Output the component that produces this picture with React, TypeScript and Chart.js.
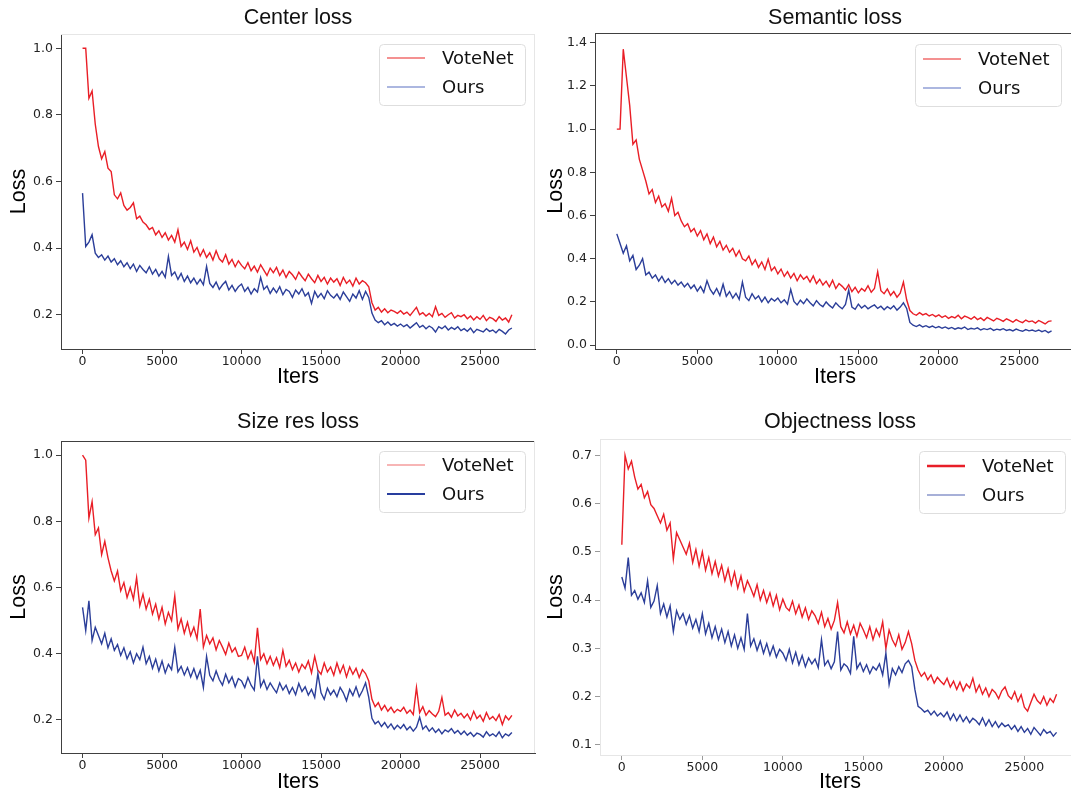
import React, { useEffect, useRef } from 'react';
import { Chart, registerables } from 'chart.js';

Chart.register(...registerables);

// ---------------- data ----------------
const ITERS = [
  0, 200, 400, 600, 800, 1000, 1200, 1400, 1600, 1800,
  2000, 2200, 2400, 2600, 2800, 3000, 3200, 3400, 3600, 3800,
  4000, 4200, 4400, 4600, 4800, 5000, 5200, 5400, 5600, 5800,
  6000, 6200, 6400, 6600, 6800, 7000, 7200, 7400, 7600, 7800,
  8000, 8200, 8400, 8600, 8800, 9000, 9200, 9400, 9600, 9800,
  10000, 10200, 10400, 10600, 10800, 11000, 11200, 11400, 11600, 11800,
  12000, 12200, 12400, 12600, 12800, 13000, 13200, 13400, 13600, 13800,
  14000, 14200, 14400, 14600, 14800, 15000, 15200, 15400, 15600, 15800,
  16000, 16200, 16400, 16600, 16800, 17000, 17200, 17400, 17600, 17800,
  18000, 18200, 18400, 18600, 18800, 19000, 19200, 19400, 19600, 19800,
  20000, 20200, 20400, 20600, 20800, 21000, 21200, 21400, 21600, 21800,
  22000, 22200, 22400, 22600, 22800, 23000, 23200, 23400, 23600, 23800,
  24000, 24200, 24400, 24600, 24800, 25000, 25200, 25400, 25600, 25800,
  26000, 26200, 26400, 26600, 26800, 27000,
];

const X_TICKS = [0, 5000, 10000, 15000, 20000, 25000];
const SERIES_LABELS = ['VoteNet', 'Ours'];
const TITLES = ['Center loss', 'Semantic loss', 'Size res loss', 'Objectness loss'];
const X_LABEL = 'Iters';
const Y_LABEL = 'Loss';

const CENTER_VOTENET = [
  1.000, 1.000, 0.850, 0.872, 0.772, 0.705, 0.668, 0.690, 0.640, 0.630,
  0.560, 0.548, 0.566, 0.528, 0.514, 0.522, 0.536, 0.488, 0.496, 0.478,
  0.470, 0.456, 0.462, 0.440, 0.452, 0.432, 0.446, 0.424, 0.438, 0.418,
  0.455, 0.405, 0.418, 0.396, 0.422, 0.388, 0.402, 0.376, 0.395, 0.372,
  0.386, 0.364, 0.392, 0.368, 0.358, 0.380, 0.352, 0.366, 0.344, 0.362,
  0.348, 0.338, 0.356, 0.332, 0.346, 0.328, 0.350, 0.334, 0.318, 0.340,
  0.326, 0.342, 0.318, 0.334, 0.312, 0.330, 0.320, 0.306, 0.328, 0.314,
  0.302, 0.322, 0.308, 0.296, 0.318, 0.300, 0.312, 0.292, 0.310, 0.298,
  0.308, 0.288, 0.312, 0.294, 0.304, 0.286, 0.310, 0.292, 0.302, 0.296,
  0.284, 0.236, 0.214, 0.222, 0.208, 0.218, 0.206, 0.214, 0.210, 0.204,
  0.212, 0.202, 0.208, 0.198, 0.210, 0.222, 0.200, 0.206, 0.196, 0.204,
  0.194, 0.224, 0.198, 0.204, 0.192, 0.200, 0.206, 0.190, 0.198, 0.194,
  0.200, 0.188, 0.196, 0.184, 0.194, 0.186, 0.198, 0.182, 0.192, 0.188,
  0.180, 0.194, 0.184, 0.190, 0.178, 0.200,
];
const CENTER_OURS = [
  0.565, 0.405, 0.418, 0.440, 0.385, 0.372, 0.380, 0.364, 0.376, 0.358,
  0.368, 0.350, 0.362, 0.344, 0.356, 0.338, 0.352, 0.330, 0.348, 0.336,
  0.326, 0.344, 0.322, 0.336, 0.316, 0.330, 0.312, 0.375, 0.318, 0.328,
  0.306, 0.324, 0.300, 0.316, 0.296, 0.310, 0.292, 0.306, 0.290, 0.345,
  0.294, 0.282, 0.298, 0.276, 0.290, 0.300, 0.274, 0.288, 0.270, 0.284,
  0.292, 0.270, 0.282, 0.262, 0.278, 0.268, 0.312, 0.276, 0.286, 0.264,
  0.280, 0.266, 0.284, 0.260, 0.276, 0.270, 0.252, 0.274, 0.262, 0.278,
  0.256, 0.266, 0.234, 0.270, 0.252, 0.264, 0.248, 0.272, 0.258, 0.250,
  0.262, 0.246, 0.268, 0.254, 0.240, 0.262, 0.250, 0.272, 0.246, 0.270,
  0.252, 0.205, 0.184, 0.176, 0.182, 0.170, 0.178, 0.168, 0.174, 0.166,
  0.172, 0.164, 0.170, 0.160, 0.168, 0.176, 0.162, 0.168, 0.158, 0.166,
  0.160, 0.148, 0.164, 0.158, 0.166, 0.154, 0.162, 0.156, 0.164, 0.152,
  0.158, 0.150, 0.160, 0.146, 0.156, 0.152, 0.148, 0.158, 0.150, 0.154,
  0.146, 0.156, 0.150, 0.142, 0.154, 0.160,
];

const SEMANTIC_VOTENET = [
  1.000, 1.000, 1.370, 1.240, 1.110, 0.930, 0.950, 0.860, 0.810, 0.760,
  0.700, 0.720, 0.660, 0.690, 0.640, 0.655, 0.620, 0.680, 0.600, 0.615,
  0.575, 0.548, 0.562, 0.525, 0.540, 0.505, 0.530, 0.488, 0.515, 0.470,
  0.500, 0.455, 0.480, 0.440, 0.462, 0.430, 0.448, 0.412, 0.438, 0.400,
  0.390, 0.412, 0.372, 0.395, 0.360, 0.385, 0.350, 0.398, 0.345, 0.362,
  0.330, 0.352, 0.318, 0.340, 0.310, 0.332, 0.298, 0.325, 0.305, 0.318,
  0.292, 0.320, 0.285, 0.305, 0.278, 0.296, 0.270, 0.300, 0.262, 0.285,
  0.272, 0.255, 0.280, 0.248, 0.268, 0.242, 0.262, 0.250, 0.275, 0.245,
  0.262, 0.340, 0.252, 0.238, 0.260, 0.230, 0.248, 0.222, 0.240, 0.292,
  0.210, 0.160, 0.145, 0.138, 0.150, 0.140, 0.146, 0.135, 0.142, 0.132,
  0.140, 0.128, 0.136, 0.124, 0.132, 0.126, 0.138, 0.122, 0.134, 0.128,
  0.120, 0.132, 0.118, 0.126, 0.114, 0.128, 0.120, 0.112, 0.124, 0.118,
  0.110, 0.122, 0.114, 0.106, 0.118, 0.110, 0.104, 0.116, 0.108, 0.112,
  0.102, 0.114, 0.106, 0.098, 0.110, 0.112,
];
const SEMANTIC_OURS = [
  0.515, 0.470, 0.425, 0.460, 0.390, 0.415, 0.350, 0.370, 0.400, 0.325,
  0.338, 0.310, 0.325, 0.296, 0.318, 0.290, 0.308, 0.284, 0.300, 0.278,
  0.292, 0.270, 0.286, 0.262, 0.278, 0.250, 0.272, 0.244, 0.298, 0.258,
  0.236, 0.262, 0.230, 0.282, 0.226, 0.248, 0.218, 0.240, 0.212, 0.292,
  0.222, 0.206, 0.238, 0.214, 0.228, 0.200, 0.222, 0.196, 0.216, 0.204,
  0.218, 0.196, 0.210, 0.190, 0.258, 0.202, 0.186, 0.208, 0.192, 0.214,
  0.196, 0.182, 0.206, 0.188, 0.178, 0.200, 0.184, 0.172, 0.196, 0.180,
  0.168, 0.188, 0.255, 0.176, 0.166, 0.190, 0.172, 0.184, 0.168, 0.178,
  0.186, 0.170, 0.180, 0.164, 0.178, 0.168, 0.182, 0.162, 0.176, 0.196,
  0.170, 0.105, 0.092, 0.086, 0.094, 0.084, 0.090, 0.082, 0.088, 0.080,
  0.086, 0.078, 0.084, 0.076, 0.082, 0.074, 0.080, 0.076, 0.084, 0.072,
  0.078, 0.074, 0.080, 0.070, 0.076, 0.072, 0.078, 0.068, 0.074, 0.070,
  0.076, 0.068, 0.072, 0.066, 0.074, 0.068, 0.064, 0.072, 0.066, 0.070,
  0.064, 0.070, 0.062, 0.068, 0.058, 0.066,
];

const SIZE_VOTENET = [
  1.000, 0.985, 0.810, 0.860, 0.760, 0.780, 0.700, 0.740, 0.690, 0.650,
  0.620, 0.650, 0.590, 0.615, 0.570, 0.600, 0.565, 0.630, 0.545, 0.580,
  0.535, 0.565, 0.520, 0.550, 0.505, 0.540, 0.490, 0.525, 0.500, 0.575,
  0.475, 0.505, 0.462, 0.495, 0.455, 0.480, 0.445, 0.535, 0.420, 0.455,
  0.430, 0.448, 0.412, 0.440, 0.420, 0.398, 0.432, 0.405, 0.418, 0.392,
  0.395, 0.420, 0.385, 0.408, 0.375, 0.478, 0.382, 0.400, 0.370, 0.392,
  0.365, 0.388, 0.358, 0.410, 0.362, 0.380, 0.352, 0.372, 0.345, 0.368,
  0.355, 0.378, 0.342, 0.392, 0.350, 0.338, 0.372, 0.345, 0.360, 0.335,
  0.372, 0.342, 0.365, 0.330, 0.360, 0.338, 0.356, 0.328, 0.352, 0.340,
  0.318, 0.262, 0.240, 0.252, 0.230, 0.244, 0.226, 0.238, 0.222, 0.232,
  0.226, 0.238, 0.220, 0.230, 0.216, 0.298, 0.222, 0.240, 0.214, 0.228,
  0.218, 0.210, 0.226, 0.268, 0.214, 0.222, 0.208, 0.230, 0.212, 0.220,
  0.206, 0.218, 0.200, 0.226, 0.204, 0.214, 0.196, 0.222, 0.202, 0.210,
  0.198, 0.216, 0.186, 0.212, 0.200, 0.214,
];
const SIZE_OURS = [
  0.540, 0.470, 0.560, 0.440, 0.480, 0.455, 0.430, 0.462, 0.418, 0.445,
  0.410, 0.428, 0.395, 0.418, 0.385, 0.406, 0.372, 0.400, 0.382, 0.420,
  0.370, 0.392, 0.356, 0.384, 0.348, 0.378, 0.342, 0.368, 0.352, 0.420,
  0.345, 0.362, 0.336, 0.358, 0.330, 0.355, 0.325, 0.350, 0.298, 0.392,
  0.335, 0.318, 0.348, 0.322, 0.305, 0.338, 0.312, 0.330, 0.300, 0.325,
  0.318, 0.298, 0.328, 0.305, 0.290, 0.392, 0.300, 0.320, 0.292, 0.312,
  0.296, 0.282, 0.312, 0.290, 0.305, 0.280, 0.298, 0.276, 0.310, 0.286,
  0.300, 0.275, 0.292, 0.268, 0.340, 0.282, 0.262, 0.296, 0.276, 0.290,
  0.270, 0.298, 0.282, 0.258, 0.292, 0.274, 0.300, 0.270, 0.288, 0.312,
  0.268, 0.205, 0.188, 0.196, 0.180, 0.192, 0.176, 0.188, 0.172, 0.184,
  0.174, 0.186, 0.170, 0.180, 0.166, 0.178, 0.208, 0.172, 0.182, 0.166,
  0.176, 0.162, 0.172, 0.158, 0.170, 0.164, 0.174, 0.160, 0.168, 0.156,
  0.166, 0.154, 0.162, 0.150, 0.160, 0.156, 0.148, 0.164, 0.152, 0.158,
  0.150, 0.164, 0.146, 0.158, 0.152, 0.162,
];

const OBJ_VOTENET = [
  0.515, 0.700, 0.672, 0.688, 0.655, 0.630, 0.640, 0.612, 0.625, 0.598,
  0.590, 0.575, 0.560, 0.578, 0.545, 0.560, 0.485, 0.540, 0.525, 0.510,
  0.495, 0.518, 0.478, 0.505, 0.470, 0.500, 0.462, 0.488, 0.455, 0.480,
  0.450, 0.472, 0.440, 0.465, 0.432, 0.458, 0.425, 0.450, 0.418, 0.440,
  0.425, 0.408, 0.432, 0.400, 0.420, 0.395, 0.415, 0.388, 0.410, 0.380,
  0.402, 0.385, 0.378, 0.398, 0.372, 0.390, 0.365, 0.384, 0.360, 0.378,
  0.368, 0.352, 0.375, 0.345, 0.362, 0.340, 0.358, 0.395, 0.345, 0.332,
  0.355, 0.330, 0.348, 0.325, 0.352, 0.338, 0.322, 0.345, 0.318, 0.340,
  0.325, 0.355, 0.300, 0.338, 0.318, 0.305, 0.328, 0.298, 0.312, 0.335,
  0.310, 0.275, 0.255, 0.242, 0.250, 0.235, 0.245, 0.228, 0.240, 0.232,
  0.225, 0.238, 0.220, 0.232, 0.215, 0.230, 0.212, 0.226, 0.218, 0.238,
  0.210, 0.224, 0.205, 0.218, 0.200, 0.215, 0.208, 0.196, 0.212, 0.220,
  0.202, 0.195, 0.210, 0.190, 0.204, 0.178, 0.170, 0.188, 0.205, 0.192,
  0.185, 0.200, 0.182, 0.196, 0.188, 0.205,
];
const OBJ_OURS = [
  0.448, 0.425, 0.488, 0.410, 0.420, 0.402, 0.415, 0.395, 0.440, 0.385,
  0.398, 0.430, 0.372, 0.392, 0.365, 0.388, 0.335, 0.378, 0.360, 0.372,
  0.350, 0.368, 0.342, 0.360, 0.335, 0.372, 0.330, 0.352, 0.322, 0.345,
  0.318, 0.340, 0.312, 0.335, 0.305, 0.328, 0.300, 0.322, 0.298, 0.372,
  0.305, 0.320, 0.296, 0.315, 0.290, 0.310, 0.286, 0.305, 0.282, 0.298,
  0.290, 0.275, 0.298, 0.270, 0.292, 0.266, 0.285, 0.262, 0.280, 0.268,
  0.278, 0.260, 0.318, 0.265, 0.275, 0.258, 0.272, 0.335, 0.255, 0.268,
  0.262, 0.248, 0.325, 0.258, 0.270, 0.252, 0.266, 0.248, 0.262, 0.255,
  0.268, 0.245, 0.290, 0.225, 0.258, 0.245, 0.262, 0.250, 0.268, 0.275,
  0.262, 0.215, 0.180, 0.175, 0.168, 0.172, 0.162, 0.170, 0.160, 0.166,
  0.158, 0.168, 0.152, 0.164, 0.150, 0.162, 0.148, 0.158, 0.146, 0.155,
  0.150, 0.142, 0.156, 0.140, 0.152, 0.138, 0.148, 0.136, 0.145, 0.138,
  0.142, 0.132, 0.140, 0.128, 0.138, 0.126, 0.134, 0.122, 0.136, 0.128,
  0.120, 0.132, 0.124, 0.128, 0.118, 0.126,
];

const Y_TICKS_CENTER = [0.2, 0.4, 0.6, 0.8, 1.0];
const Y_TICKS_SEMANTIC = [0.0, 0.2, 0.4, 0.6, 0.8, 1.0, 1.2, 1.4];
const Y_TICKS_SIZE = [0.2, 0.4, 0.6, 0.8, 1.0];
const Y_TICKS_OBJ = [0.1, 0.2, 0.3, 0.4, 0.5, 0.6, 0.7];

// ---------------- styles / layout ----------------
const RED = 'rgba(232, 18, 26, 0.95)';
const BLUE = 'rgba(32, 52, 148, 0.95)';
const DARK = '#404040';
const FAINT = '#e6e6e6';

type LegendLine = { color: string; width: number };
type Spec = {
  title: string;
  red: number[];
  blue: number[];
  yTicks: number[];
  yMin: number; yMax: number; xMin: number; xMax: number;
  left: number; top: number; width: number; height: number;
  yAxisW: number; xAxisH: number; padRight: number;
  titlePadTop: number; titlePadBottom: number;
  yTitlePad: number; xTitlePad: number;
  axisColor: string; tickColor: string;
  topSpine: string | null; rightSpine: string | null;
  legend: { x: number; y: number; w: number; h: number; dy: number[]; lines: LegendLine[] };
};

const SPECS: Spec[] = [
  {
    title: TITLES[0], red: CENTER_VOTENET, blue: CENTER_OURS, yTicks: Y_TICKS_CENTER,
    yMin: 0.097, yMax: 1.043, xMin: -1355, xMax: 28455,
    left: 0, top: 0, width: 545, height: 397,
    yAxisW: 61, xAxisH: 48, padRight: 10,
    titlePadTop: 5.1, titlePadBottom: 3.1, yTitlePad: 6, xTitlePad: 7,
    axisColor: DARK, tickColor: DARK, topSpine: FAINT, rightSpine: FAINT,
    legend: { x: 379, y: 44, w: 146, h: 61, dy: [14, 43], lines: [
      { color: 'rgba(235, 60, 60, 0.75)', width: 1.3 },
      { color: 'rgba(70, 95, 185, 0.6)', width: 1.3 },
    ] },
  },
  {
    title: TITLES[1], red: SEMANTIC_VOTENET, blue: SEMANTIC_OURS, yTicks: Y_TICKS_SEMANTIC,
    yMin: -0.018, yMax: 1.445, xMin: -1355, xMax: 28455,
    left: 540, top: 0, width: 540, height: 397,
    yAxisW: 55, xAxisH: 48, padRight: 5,
    titlePadTop: 5.1, titlePadBottom: 2.1, yTitlePad: 3, xTitlePad: 7,
    axisColor: DARK, tickColor: DARK, topSpine: DARK, rightSpine: null,
    legend: { x: 375, y: 44, w: 146, h: 62, dy: [15, 44], lines: [
      { color: 'rgba(235, 60, 60, 0.75)', width: 1.3 },
      { color: 'rgba(70, 95, 185, 0.6)', width: 1.3 },
    ] },
  },
  {
    title: TITLES[2], red: SIZE_VOTENET, blue: SIZE_OURS, yTicks: Y_TICKS_SIZE,
    yMin: 0.1, yMax: 1.043, xMin: -1355, xMax: 28455,
    left: 0, top: 400, width: 545, height: 400,
    yAxisW: 61, xAxisH: 47, padRight: 10,
    titlePadTop: 8.8, titlePadBottom: 6.4, yTitlePad: 6, xTitlePad: 5,
    axisColor: DARK, tickColor: DARK, topSpine: DARK, rightSpine: FAINT,
    legend: { x: 379, y: 51, w: 146, h: 61, dy: [14, 43], lines: [
      { color: 'rgba(235, 60, 60, 0.75)', width: 1.2 },
      { color: 'rgba(40, 62, 158, 1)', width: 2.2 },
    ] },
  },
  {
    title: TITLES[3], red: OBJ_VOTENET, blue: OBJ_OURS, yTicks: Y_TICKS_OBJ,
    yMin: 0.079, yMax: 0.734, xMin: -1355, xMax: 28455,
    left: 540, top: 400, width: 545, height: 400,
    yAxisW: 60, xAxisH: 45, padRight: 5,
    titlePadTop: 9.1, titlePadBottom: 4.1, yTitlePad: 3, xTitlePad: 5,
    axisColor: FAINT, tickColor: '#9a9a9a', topSpine: FAINT, rightSpine: null,
    legend: { x: 379, y: 51, w: 146, h: 62, dy: [15, 44], lines: [
      { color: 'rgba(232, 30, 40, 1)', width: 2.5 },
      { color: 'rgba(50, 70, 165, 0.85)', width: 1.2 },
    ] },
  },
];

function makeDecorPlugin(s: Spec) {
  return {
    id: 'decor',
    afterDatasetsDraw(chart: any) {
      const { ctx, chartArea: a } = chart;
      ctx.save();
      ctx.lineWidth = 1;
      if (s.topSpine) {
        ctx.strokeStyle = s.topSpine;
        ctx.beginPath();
        ctx.moveTo(a.left, Math.round(a.top) + 0.5);
        ctx.lineTo(a.right, Math.round(a.top) + 0.5);
        ctx.stroke();
      }
      if (s.rightSpine) {
        ctx.strokeStyle = s.rightSpine;
        ctx.beginPath();
        ctx.moveTo(Math.round(a.right) - 0.5, a.top);
        ctx.lineTo(Math.round(a.right) - 0.5, a.bottom);
        ctx.stroke();
      }
      // legend box
      const L = s.legend;
      ctx.beginPath();
      ctx.roundRect(L.x + 0.5, L.y + 0.5, L.w, L.h, 4);
      ctx.fillStyle = 'rgba(255,255,255,0.85)';
      ctx.fill();
      ctx.strokeStyle = '#dedede';
      ctx.lineWidth = 1;
      ctx.stroke();
      chart.data.datasets.forEach((ds: any, i: number) => {
        const yy = L.y + L.dy[i];
        ctx.beginPath();
        ctx.strokeStyle = L.lines[i].color;
        ctx.lineWidth = L.lines[i].width;
        ctx.moveTo(L.x + 8, yy);
        ctx.lineTo(L.x + 46, yy);
        ctx.stroke();
        ctx.fillStyle = '#111';
        ctx.font = '18px "DejaVu Sans"';
        ctx.textBaseline = 'middle';
        ctx.textAlign = 'left';
        ctx.fillText(ds.label, L.x + 63, yy + 1);
      });
      ctx.restore();
    },
  };
}

function buildConfig(s: Spec): any {
  const tickFont = { family: 'DejaVu Sans', size: 12.5 };
  const labelFont = { family: 'Liberation Sans', size: 21.5, weight: 'normal' as const };
  const mk = (vals: number[]) => ITERS.map((x, i) => ({ x, y: vals[i] }));
  return {
    type: 'line',
    data: {
      datasets: [
        { label: SERIES_LABELS[0], data: mk(s.red), borderColor: RED, borderWidth: 1.4, pointRadius: 0, fill: false, tension: 0, order: 1 },
        { label: SERIES_LABELS[1], data: mk(s.blue), borderColor: BLUE, borderWidth: 1.4, pointRadius: 0, fill: false, tension: 0, order: 0 },
      ],
    },
    options: {
      animation: false,
      responsive: false,
      devicePixelRatio: 1,
      events: [],
      layout: { padding: { left: 0, top: 0, bottom: 0, right: s.padRight } },
      plugins: {
        legend: { display: false },
        tooltip: { enabled: false },
        title: {
          display: true,
          text: s.title,
          fullSize: false,
          color: '#111',
          font: labelFont,
          padding: { top: s.titlePadTop, bottom: s.titlePadBottom },
        },
      },
      scales: {
        x: {
          type: 'linear',
          min: s.xMin,
          max: s.xMax,
          afterBuildTicks: (sc: any) => { sc.ticks = X_TICKS.map((v) => ({ value: v })); },
          afterFit: (sc: any) => { sc.height = s.xAxisH; },
          ticks: { font: tickFont, color: '#222', padding: 0, maxRotation: 0, autoSkip: false, callback: (v: any) => String(v) },
          grid: { drawOnChartArea: false, drawTicks: true, tickLength: 5, tickColor: s.tickColor, color: s.tickColor, lineWidth: 1 },
          border: { display: true, color: s.axisColor, width: 1 },
          title: { display: true, text: X_LABEL, color: '#000', font: labelFont, padding: { top: 0, bottom: s.xTitlePad } },
        },
        y: {
          type: 'linear',
          min: s.yMin,
          max: s.yMax,
          afterBuildTicks: (sc: any) => { sc.ticks = s.yTicks.map((v) => ({ value: v })); },
          afterFit: (sc: any) => { sc.width = s.yAxisW; },
          ticks: { font: tickFont, color: '#222', padding: 3, autoSkip: false, callback: (v: any) => Number(v).toFixed(1) },
          grid: { drawOnChartArea: false, drawTicks: true, tickLength: 5, tickColor: s.tickColor, color: s.tickColor, lineWidth: 1 },
          border: { display: true, color: s.axisColor, width: 1 },
          title: { display: true, text: Y_LABEL, color: '#000', font: labelFont, padding: { top: s.yTitlePad, bottom: 0 } },
        },
      },
    },
    plugins: [makeDecorPlugin(s)],
  };
}

function Panel({ spec }: { spec: Spec }) {
  const ref = useRef<HTMLCanvasElement | null>(null);
  useEffect(() => {
    if (!ref.current) return;
    const chart = new Chart(ref.current, buildConfig(spec));
    return () => chart.destroy();
  }, [spec]);
  return (
    <canvas
      ref={ref}
      width={spec.width}
      height={spec.height}
      style={{ position: 'absolute', left: spec.left, top: spec.top, width: spec.width, height: spec.height }}
    />
  );
}

export default function App() {
  return (
    <div style={{ position: 'fixed', left: 0, top: 0, width: 1071, height: 794, overflow: 'hidden', background: '#fff' }}>
      {SPECS.map((s) => (
        <Panel key={s.title} spec={s} />
      ))}
    </div>
  );
}
